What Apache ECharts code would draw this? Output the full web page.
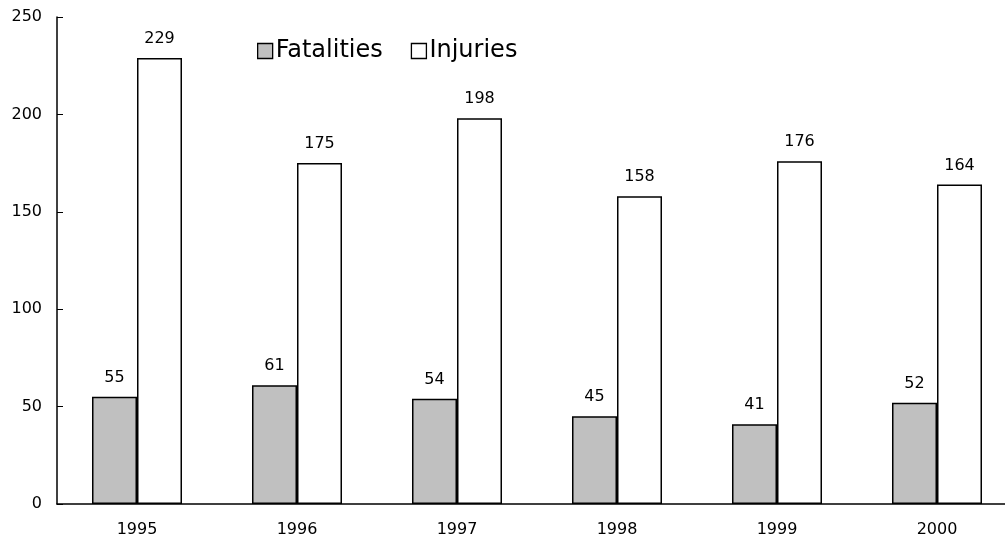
<!DOCTYPE html>
<html><head><meta charset="utf-8">
<script src="https://cdn.jsdelivr.net/npm/echarts@6/dist/echarts.min.js"></script>
<style>html,body{margin:0;padding:0;background:#fff}#c{width:1005px;height:541px}</style>
</head><body><div id="c"></div>
<script>
const years = ['1995','1996','1997','1998','1999','2000'];
const fatalities = [55, 61, 54, 45, 41, 52];
const injuries = [229, 175, 198, 158, 176, 164];
const font = '"DejaVu Sans", sans-serif';
const chart = echarts.init(document.getElementById('c'));
chart.setOption({
  animation: false,
  backgroundColor: '#fff',
  legend: {
    left: 252, top: 34, itemGap: 28, itemWidth: 15, itemHeight: 15, icon: 'rect',
    itemStyle: {borderColor: '#000', borderWidth: 1.3},
    textStyle: {fontFamily: font, fontSize: 24, color: '#000', padding: [0,0,0,-2]},
    data: ['Fatalities','Injuries']
  },
  grid: {left: 57, width: 960, top: 17, height: 487, outerBoundsMode: 'none', containLabel: false},
  xAxis: {
    type: 'category', data: years,
    axisLine: {lineStyle: {color: '#000', width: 1.5}},
    axisTick: {show: false},
    axisLabel: {fontFamily: font, fontSize: 16, color: '#000', margin: 18}
  },
  yAxis: {
    type: 'value', min: 0, max: 250, interval: 50,
    axisLine: {show: true, lineStyle: {color: '#000', width: 1.5}},
    axisTick: {show: true, inside: true, length: 6, lineStyle: {color: '#000'}},
    splitLine: {show: false},
    axisLabel: {fontFamily: font, fontSize: 16, color: '#000', margin: 15, align: 'right'}
  },
  series: [
    {name: 'Fatalities', type: 'bar', data: fatalities, barWidth: 45, barGap: '0%',
     itemStyle: {color: '#c0c0c0', borderColor: '#000', borderWidth: 1.5},
     label: {show: true, position: 'top', distance: 11, fontFamily: font, fontSize: 16, color: '#000'}},
    {name: 'Injuries', type: 'bar', data: injuries, barWidth: 45, barGap: '0%',
     itemStyle: {color: '#fff', borderColor: '#000', borderWidth: 1.5},
     label: {show: true, position: 'top', distance: 11, fontFamily: font, fontSize: 16, color: '#000'}}
  ]
});
</script></body></html>
